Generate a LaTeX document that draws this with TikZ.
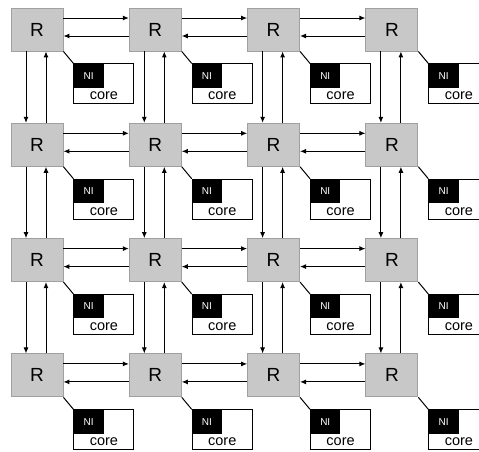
\documentclass[tikz,border=0pt]{standalone}
\usepackage{fontspec}
\setmainfont{Liberation Sans}
\usetikzlibrary{arrows.meta}
\definecolor{routerfill}{RGB}{200,200,200}
\definecolor{routerline}{RGB}{160,160,160}

\begin{document}
\begin{tikzpicture}[x=1pt,y=-1pt,
    router/.style={draw=routerline,fill=routerfill,line width=0.9pt,minimum width=52pt,minimum height=43pt,inner sep=0pt,font=\fontsize{19}{19}\selectfont},
    corebox/.style={draw,fill=white,line width=1pt,minimum width=60pt,minimum height=40pt,inner sep=0pt,anchor=north west},
    nibox/.style={fill=black,text=white,minimum width=30pt,minimum height=24pt,inner sep=0pt,anchor=north west,font=\fontsize{10}{10}\selectfont},
    link/.style={-{Latex[length=6pt,width=5pt]},line width=1pt}]
    \useasboundingbox (0,0) rectangle (479,451);
    \clip (0,0) rectangle (479,451);
    \foreach \row in {0,...,3} {
        \foreach \col in {0,...,3} {
            \node[router] (r\row\col) at ({37+118.3*\col},{29.5+115.3*\row}) {R};
            \node[corebox] (c\row\col) at ([xshift=10pt,yshift=-12pt]r\row\col.south east) {};
            \node[nibox] (n\row\col) at (c\row\col.north west) {NI};
            \node[font=\fontsize{14.5}{14.5}\selectfont] (t\row\col) at ([yshift=-12pt]c\row\col.center) {core};
            \draw[line width=1pt] (r\row\col.south east) -- (c\row\col.north west);
        }
    }
    \foreach \row in {0,...,3} {
        \foreach \col [evaluate=\col as \nxt using int(\col+1)] in {0,1,2} {
            \draw[link] ([yshift=11.5pt]r\row\col.east) -- ([yshift=11.5pt]r\row\nxt.west);
            \draw[link] ([yshift=-6.5pt]r\row\nxt.west) -- ([yshift=-6.5pt]r\row\col.east);
        }
    }
    \foreach \col in {0,...,3} {
        \foreach \row [evaluate=\row as \nxt using int(\row+1)] in {0,1,2} {
            \draw[link] ([xshift=-11pt]r\row\col.south) -- ([xshift=-11pt]r\nxt\col.north);
            \draw[link] ([xshift=9pt]r\nxt\col.north) -- ([xshift=9pt]r\row\col.south);
        }
    }
\end{tikzpicture}
\end{document}
